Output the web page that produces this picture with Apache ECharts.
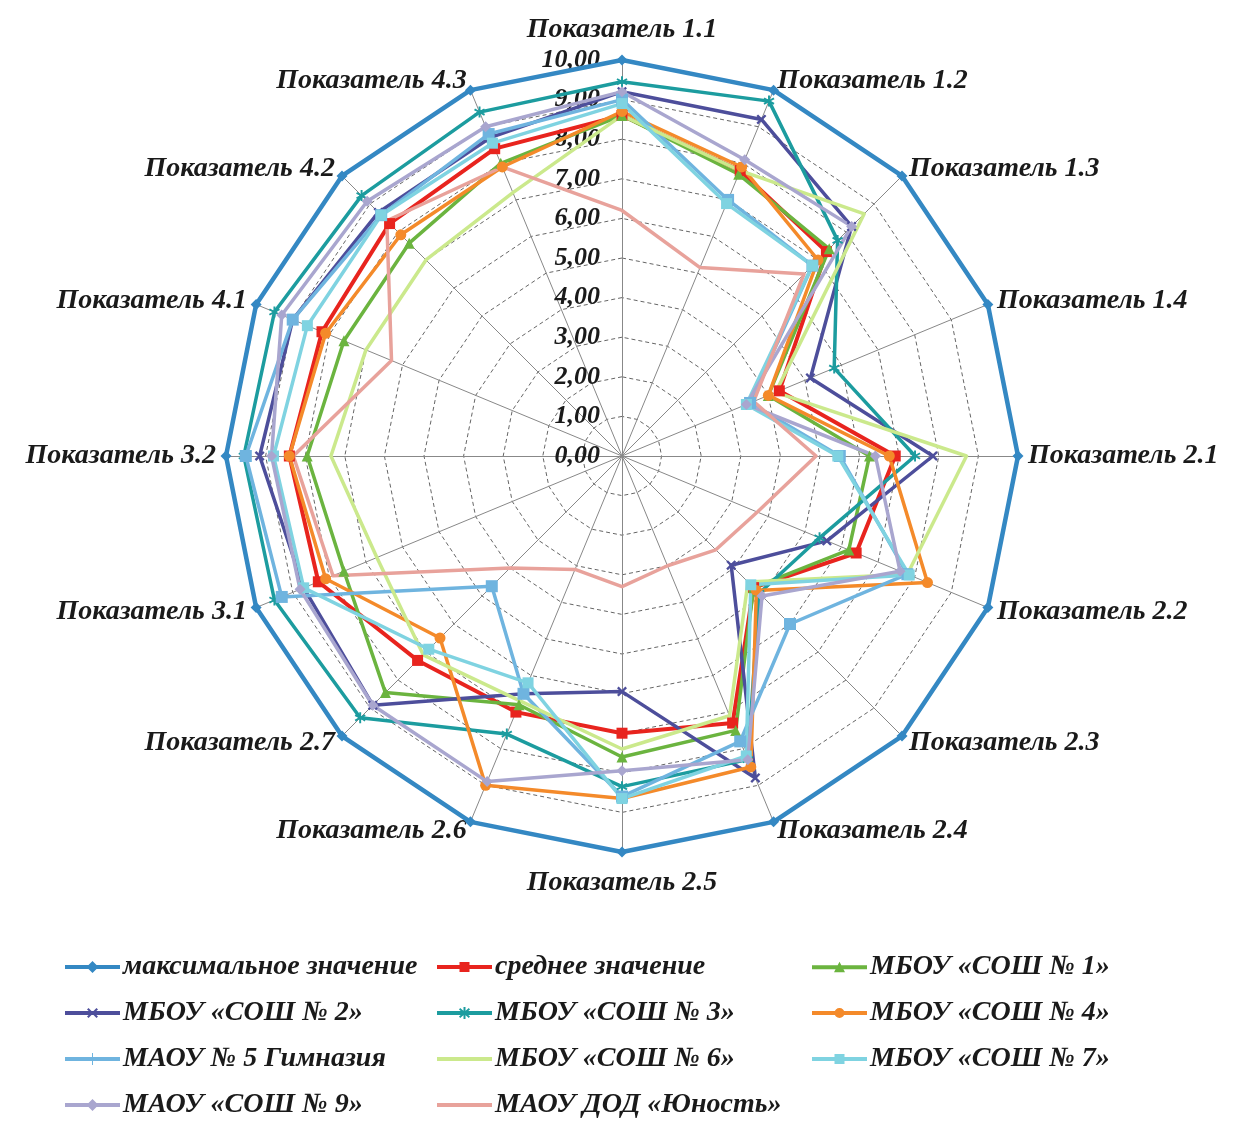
<!DOCTYPE html>
<html>
<head>
<meta charset="utf-8">
<script src="https://cdn.jsdelivr.net/npm/echarts@6/dist/echarts.min.js"></script>
<style>
html,body{margin:0;padding:0;background:#fff;}
#chart{width:1233px;height:1121px;}
</style>
</head>
<body>
<div id="chart"></div>
<script>
// ---- data ----
const indicators = ['Показатель 1.1','Показатель 1.2','Показатель 1.3','Показатель 1.4','Показатель 2.1','Показатель 2.2','Показатель 2.3','Показатель 2.4','Показатель 2.5','Показатель 2.6','Показатель 2.7','Показатель 3.1','Показатель 3.2','Показатель 4.1','Показатель 4.2','Показатель 4.3'];
const tickValues = [0,1,2,3,4,5,6,7,8,9,10];
const seriesNames = ['максимальное значение','среднее значение','МБОУ «СОШ № 1»','МБОУ «СОШ № 2»','МБОУ «СОШ № 3»','МБОУ «СОШ № 4»','МАОУ № 5 Гимназия','МБОУ «СОШ № 6»','МБОУ «СОШ № 7»','МАОУ «СОШ № 9»','МАОУ ДОД «Юность»'];
const maxValues   = [10,10,10,10,10,10,10,10,10,10,10,10,10,10,10,10];
const avgValues   = [8.6,7.8,7.3,4.3,6.9,6.4,4.7,7.3,7.0,7.0,7.3,8.3,8.4,8.2,8.3,8.4];
const sosh1       = [8.6,7.7,7.4,4.0,6.25,6.2,4.7,7.5,7.6,6.8,8.45,7.6,7.95,7.6,7.6,8.0];
const sosh2       = [9.2,9.2,8.2,5.15,7.85,5.6,3.9,8.8,5.95,6.5,8.9,8.7,9.15,9.0,8.7,8.7];
const sosh3       = [9.45,9.7,7.7,5.8,7.4,5.4,4.9,8.3,8.35,7.6,9.35,9.5,9.55,9.5,9.3,9.4];
const sosh4       = [8.7,7.9,7.0,4.0,6.75,8.35,4.8,8.5,8.65,9.0,6.5,8.1,8.4,8.1,7.9,7.9];
const gymn5       = [9.0,7.0,6.8,3.5,5.5,7.8,6.0,7.8,8.6,6.5,4.65,9.3,9.5,9.0,8.6,8.8];
const sosh6       = [8.6,7.8,8.65,4.2,8.7,7.8,4.5,7.1,7.4,6.7,7.1,6.7,7.35,7.0,7.0,7.2];
const sosh7       = [8.9,6.9,6.8,3.4,5.45,7.85,4.6,8.2,8.65,6.2,6.9,8.7,8.8,8.6,8.6,8.55];
const sosh9       = [9.2,8.1,8.2,3.4,6.4,7.6,5.0,8.3,7.95,8.9,8.9,8.8,8.85,9.3,9.1,9.0];
const yunost      = [6.2,5.15,6.5,3.6,4.9,3.7,3.35,3.0,3.3,3.1,4.0,7.9,8.3,6.3,8.4,7.9];

// ---- styling ----
const allValues = [maxValues,avgValues,sosh1,sosh2,sosh3,sosh4,gymn5,sosh6,sosh7,sosh9,yunost];
const colors = ['#3488C3','#E8241E','#6BB43F','#4D4E9B','#1C9C9F','#F48A2A','#6FB4DF','#CBE98C','#7FD3E1','#A9A6CF','#E8A29B'];
const X_PATH = 'path://M2,0 L6,4 L10,0 L12,2 L8,6 L12,10 L10,12 L6,8 L2,12 L0,10 L4,6 L0,2 Z';
const AST_PATH = 'path://M5,0 L7,0 L7,4.3 L10.7,2.1 L11.7,3.9 L8,6 L11.7,8.1 L10.7,9.9 L7,7.7 L7,12 L5,12 L5,7.7 L1.3,9.9 L0.3,8.1 L4,6 L0.3,3.9 L1.3,2.1 L5,4.3 Z';
const PLUS_PATH = 'path://M5,0 L7,0 L7,12 L5,12 Z';
const symbols = ['diamond','rect','triangle',X_PATH,AST_PATH,'circle',PLUS_PATH,'none','rect','diamond','none'];
const symbolSizes = [11,11,11,10,11,11,12,0,11,11,0];
const widths = [4.5,4,3.5,3.5,3.5,3.5,3.5,3.5,3.5,3.5,3.5];

// legend icons (line + marker)
const LINE = 'M0,4 L55,4 L55,8 L0,8 Z ';
const legendIcons = [
  'path://' + LINE + 'M27.5,0 L33.5,6 L27.5,12 L21.5,6 Z',
  'path://' + LINE + 'M22.5,1 L32.5,1 L32.5,11 L22.5,11 Z',
  'path://' + LINE + 'M27.5,0.5 L33,11 L22,11 Z',
  'path://' + LINE + 'M23.5,1 L27.5,5 L31.5,1 L33,2.5 L29,6 L33,9.5 L31.5,11 L27.5,7 L23.5,11 L22,9.5 L26,6 L22,2.5 Z',
  'path://' + LINE + 'M26.5,0 L28.5,0 L28.5,12 L26.5,12 Z M22,2.5 L23.2,1 L33,9.5 L31.8,11 Z M22,9.5 L31.8,1 L33,2.5 L23.2,11 Z',
  'path://' + LINE + 'M27.5,1 A5,5 0 1,1 27.49,1 Z',
  'path://' + LINE + 'M27,0 L28,0 L28,12 L27,12 Z',
  'path://' + LINE,
  'path://' + LINE + 'M22.5,1 L32.5,1 L32.5,11 L22.5,11 Z',
  'path://' + LINE + 'M27.5,0 L33.5,6 L27.5,12 L21.5,6 Z',
  'path://' + LINE
];

// indicators are drawn clockwise (ECharts places them counter-clockwise)
const order = [0];
for (let i = indicators.length - 1; i >= 1; i--) order.push(i);

const FONT = 'Liberation Serif';
const textStyle = {color:'#1a1a1a', fontFamily:FONT, fontStyle:'italic', fontWeight:'bold'};

const indicatorOpts = order.map((idx, k) => {
  const o = {name: indicators[idx], min: tickValues[0], max: tickValues[tickValues.length-1]};
  if (k === 0) {
    o.nameGap = 16;
    o.axisLabel = {
      show: true, margin: 22, fontSize: 26, color:'#1a1a1a', fontFamily: FONT, fontStyle:'italic', fontWeight:'bold',
      padding: [6,0,0,0],
      formatter: v => v.toFixed(2).replace('.', ',')
    };
  }
  return o;
});

const dataItems = allValues.map((vals, i) => ({
  name: seriesNames[i],
  value: order.map(idx => vals[idx]),
  symbol: symbols[i],
  symbolSize: symbolSizes[i],
  lineStyle: {color: colors[i], width: widths[i]},
  itemStyle: {color: colors[i]}
}));

function legendCol(left, idxs) {
  return {
    orient: 'vertical', left: left, top: 953, height: 168, padding: 0,
    itemWidth: 55, itemHeight: 12, itemGap: 18,
    textStyle: Object.assign({fontSize: 28, lineHeight: 28, padding:[0,0,0,-2]}, textStyle),
    data: idxs.map(i => ({name: seriesNames[i], icon: legendIcons[i], itemStyle:{color: colors[i]}}))
  };
}

const chart = echarts.init(document.getElementById('chart'), null, {renderer:'canvas'});
chart.setOption({
  backgroundColor: '#fff',
  animation: false,
  legend: [
    legendCol(65, [0,3,6,9]),
    legendCol(437, [1,4,7,10]),
    legendCol(812, [2,5,8])
  ],
  radar: {
    center: [622, 456],
    radius: 396,
    startAngle: 90,
    splitNumber: 10,
    shape: 'polygon',
    indicator: indicatorOpts,
    axisName: Object.assign({fontSize: 28, padding: [7,0,0,0]}, textStyle),
    nameGap: 10,
    splitLine: {lineStyle: {color: '#666', type: [4,3], width: 1}},
    splitArea: {show: false},
    axisLine: {lineStyle: {color: '#888', width: 1}},
    axisTick: {show: false},
    axisLabel: {show: false}
  },
  series: [{
    type: 'radar',
    data: dataItems
  }]
});
</script>
</body>
</html>
